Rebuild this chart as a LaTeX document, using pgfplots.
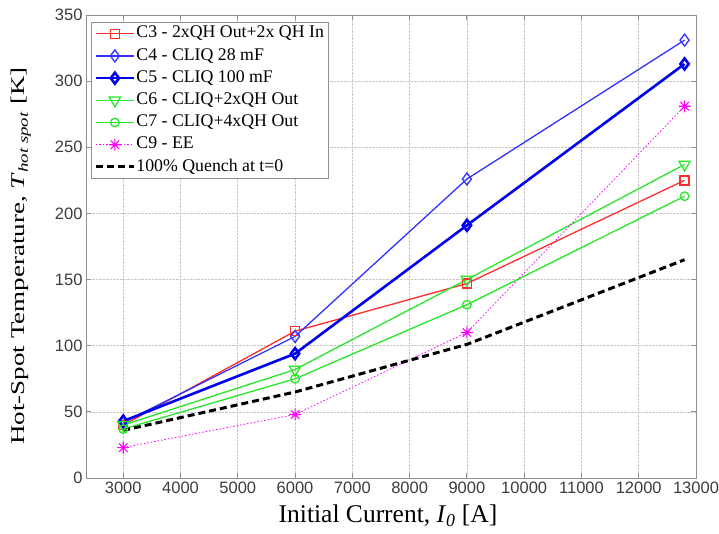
\documentclass[border=0pt]{standalone}
\usepackage{fontspec}
\setmainfont{Liberation Serif}
\setsansfont{Liberation Sans}
\usepackage{graphicx}
\usepackage{pgfplots}
\pgfplotsset{compat=1.18}

\definecolor{cred}{RGB}{255,45,45}
\definecolor{cblue}{RGB}{50,50,255}
\definecolor{cblue2}{RGB}{0,0,240}
\definecolor{cgreen}{RGB}{40,230,40}
\definecolor{cmag}{RGB}{255,0,255}
\definecolor{axgray}{RGB}{145,145,145}
\definecolor{tickgray}{RGB}{60,60,60}

% matlab style '*' marker: plus and cross together
\pgfdeclareplotmark{mstar}{%
  \pgfpathmoveto{\pgfqpoint{-\pgfplotmarksize}{0pt}}\pgfpathlineto{\pgfqpoint{\pgfplotmarksize}{0pt}}%
  \pgfpathmoveto{\pgfqpoint{0pt}{-\pgfplotmarksize}}\pgfpathlineto{\pgfqpoint{0pt}{\pgfplotmarksize}}%
  \pgfpathmoveto{\pgfqpoint{-.707\pgfplotmarksize}{-.707\pgfplotmarksize}}\pgfpathlineto{\pgfqpoint{.707\pgfplotmarksize}{.707\pgfplotmarksize}}%
  \pgfpathmoveto{\pgfqpoint{-.707\pgfplotmarksize}{.707\pgfplotmarksize}}\pgfpathlineto{\pgfqpoint{.707\pgfplotmarksize}{-.707\pgfplotmarksize}}%
  \pgfusepathqstroke}

\begin{document}
\begin{tikzpicture}
\useasboundingbox (-86pt,-56pt) rectangle (633pt,478pt);
\begin{axis}[
  at={(0,0)}, anchor=south west,
  scale only axis, width=610pt, height=463pt,
  xmin=2350, xmax=13000, ymin=0, ymax=350,
  xtick={3000,4000,...,13000}, ytick={0,50,...,350},
  scaled x ticks=false,
  /pgf/number format/1000 sep={},
  /pgf/number format/assume math mode=true,
  tick align=inside, major tick length=5pt,
  axis line style={axgray, line width=0.8pt},
  tick style={axgray, line width=0.8pt},
  grid=major, grid style={densely dotted, gray!45, line width=0.6pt},
  ticklabel style={font=\sffamily\fontsize{16.5}{18}\selectfont, text=tickgray},
  xlabel={Initial Current, \textit{I}\textsubscript{\textit{0}} [A]},
  xlabel style={font=\fontsize{25.5}{28}\selectfont, at={(axis description cs:0.5,0)}, anchor=base, yshift=-45pt, xshift=-3pt},
  ylabel={\scalebox{1}[0.72]{Hot-Spot Temperature, \textit{T}\textsubscript{\textit{hot spot}} [K]}},
  ylabel style={font=\fontsize{27}{30}\selectfont, at={([xshift=-65pt,yshift=-9.5pt]axis description cs:0,0.5)}, anchor=center},
  legend cell align=left,
  legend image code/.code={\draw[mark repeat=2,mark phase=2,#1] plot coordinates {(0pt,0pt) (19pt,0pt) (38pt,0pt)};},
  legend style={at={(axis description cs:0,1)}, anchor=north west, xshift=5pt, yshift=-7pt,
    draw=axgray, line width=0.8pt, font=\fontsize{17.8}{20}\selectfont,
    inner xsep=3pt, inner ysep=2pt, row sep=3.5pt,
    nodes={inner sep=1pt, text height=12.5pt, text depth=4.2pt}},
]
\addplot[cred, line width=1.3pt, mark=square, mark size=4.5pt, mark options={solid}] coordinates {
  (3000,40) (6000,111) (9000,147) (12800,225)
};
\addlegendentry{C3 - 2xQH Out+2x QH In}
\addplot[cblue, line width=1.3pt, mark=diamond, mark size=6pt, mark options={solid}] coordinates {
  (3000,42) (6000,107) (9000,226) (12800,331)
};
\addlegendentry{C4 - CLIQ 28 mF}
\addplot[cblue2, line width=2.6pt, mark=diamond, mark size=5.5pt, mark options={solid}] coordinates {
  (3000,43) (6000,94) (9000,191) (12800,313)
};
\addlegendentry{C5 - CLIQ 100 mF}
\addplot[cgreen, line width=1.3pt, mark=triangle, mark size=6.5pt, mark options={solid, rotate=180}] coordinates {
  (3000,40) (6000,82) (9000,150) (12800,237)
};
\addlegendentry{C6 - CLIQ+2xQH Out}
\addplot[cgreen, line width=1.3pt, mark=o, mark size=4.3pt, mark options={solid}] coordinates {
  (3000,37) (6000,75) (9000,131) (12800,213)
};
\addlegendentry{C7 - CLIQ+4xQH Out}
\addplot[cmag, line width=0.8pt, dash pattern=on 1.5pt off 2pt, mark=mstar, mark size=6pt, mark options={solid, line width=1.1pt}] coordinates {
  (3000,23) (6000,48) (9000,110) (12800,281)
};
\addlegendentry{C9 - EE}
\addplot[black, line width=3pt, dash pattern=on 7pt off 4pt] coordinates {
  (3000,36) (6000,65) (9000,101) (12800,165)
};
\addlegendentry{100\% Quench at t=0}
\end{axis}
\end{tikzpicture}
\end{document}
